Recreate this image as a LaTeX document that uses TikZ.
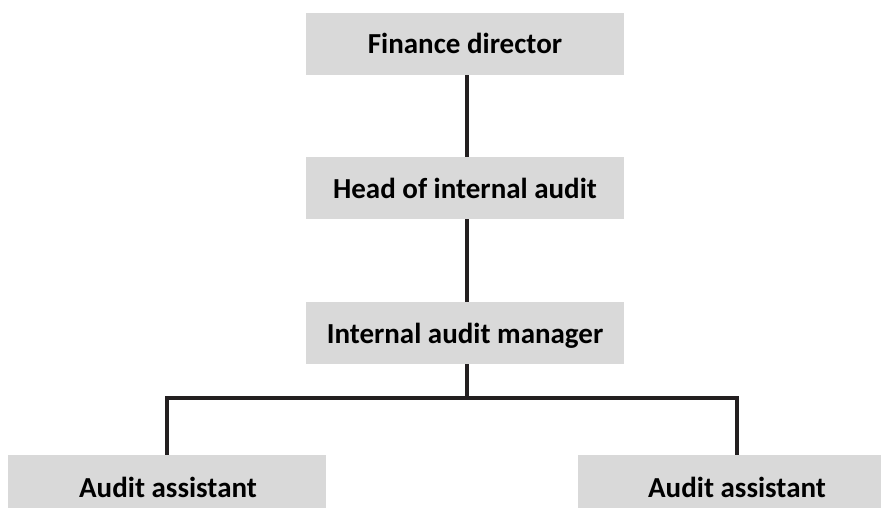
\documentclass[tikz,border=0pt]{standalone}
\usepackage{fontspec}
\setmainfont{Carlito}
\begin{document}
\begin{tikzpicture}[x=1pt,y=-1pt,
  box/.style={fill=boxgray, draw=none, inner sep=0pt, minimum width=318pt, minimum height=62pt},
  lowbox/.style={box, minimum height=60pt},
  lbl/.style={font=\fontsize{29}{32}\selectfont\bfseries, inner sep=0pt, anchor=base},
  conn/.style={line width=4pt, draw=linecol, line cap=butt}]
\definecolor{boxgray}{HTML}{D9D9D9}
\definecolor{linecol}{HTML}{231F20}
\useasboundingbox (0,0) rectangle (881,508);
\begin{scope}
\clip (0,0) rectangle (881,508);
\node[box] (fd) at (465,44) {};
\node[box] (hia) at (465,188) {};
\node[box] (iam) at (465,333) {};
\node[lowbox] (aa1) at (167,485) {};
\node[lowbox] (aa2) at (737,485) {};
\end{scope}
\node[lbl] (tfd) at (465,54) {Finance director};
\node[lbl] (thia) at (465,198) {Head of internal audit};
\node[lbl] (tiam) at (465,343) {Internal audit manager};
\node[lbl] (taa1) at (168,497) {Audit assistant};
\node[lbl] (taa2) at (737,497) {Audit assistant};
\coordinate (j) at (467,398);
\draw[conn] (fd.south -| j) -- (hia.north -| j);
\draw[conn] (hia.south -| j) -- (iam.north -| j);
\draw[conn] (iam.south -| j) -- (j);
\draw[conn, line join=miter] (aa1.north) |- (j) -| (aa2.north);
\end{tikzpicture}
\end{document}
